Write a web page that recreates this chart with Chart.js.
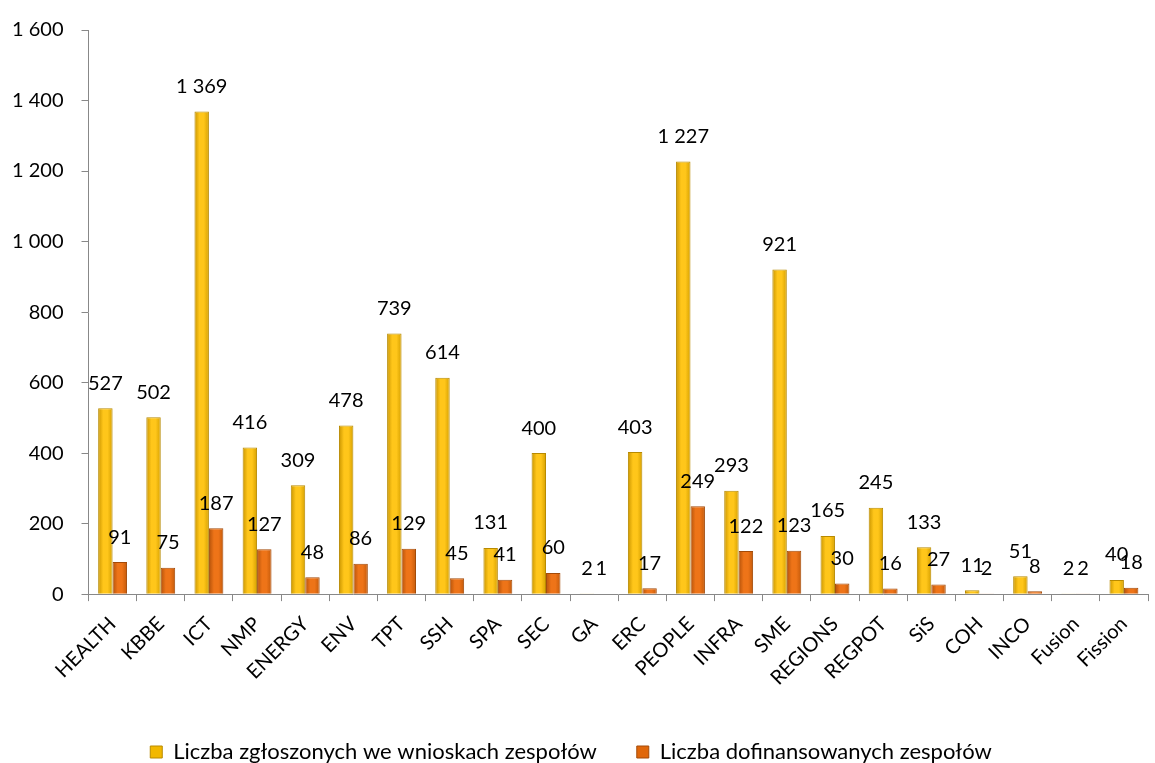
<!DOCTYPE html>
<html>
<head>
<meta charset="utf-8">
<script src="https://cdn.jsdelivr.net/npm/chart.js@4"></script>
<style>
  html, body { margin: 0; padding: 0; background: #fff; }
  #wrap { width: 1155px; height: 763px; }
</style>
</head>
<body>
<div id="wrap"><canvas id="myChart" width="1155" height="763"></canvas></div>
<script>
// programy / obszary tematyczne
const categories = ['HEALTH','KBBE','ICT','NMP','ENERGY','ENV','TPT','SSH','SPA','SEC','GA','ERC','PEOPLE','INFRA','SME','REGIONS','REGPOT','SiS','COH','INCO','Fusion','Fission'];
const zgloszone = [527, 502, 1369, 416, 309, 478, 739, 614, 131, 400, 2, 403, 1227, 293, 921, 165, 245, 133, 11, 51, 2, 40];
const dofinansowane = [91, 75, 187, 127, 48, 86, 129, 45, 41, 60, 1, 17, 249, 122, 123, 30, 16, 27, 2, 8, 2, 18];
const yTicks = [0, 200, 400, 600, 800, 1000, 1200, 1400, 1600];

const FONT = 'Lato, "Open Sans", sans-serif';
const CAT_PCT = 0.6;

function fmt(v) {
  return String(v).replace(/\B(?=(\d{3})+(?!\d))/g, ' ');
}

// poziomy gradient dla kazdego slupka (ciemne brzegi, jasny srodek)
function barFill(stops, solid) {
  return function(c) {
    const chart = c.chart;
    const xs = chart.scales.x;
    if (!chart.chartArea || !xs || c.dataIndex === undefined) return solid;
    const catW = xs.width / categories.length;
    const barW = catW * CAT_PCT / 2;
    const mid = xs.getPixelForValue(c.dataIndex) + (c.datasetIndex === 0 ? -barW / 2 : barW / 2);
    const g = chart.ctx.createLinearGradient(mid - barW / 2, 0, mid + barW / 2, 0);
    g.addColorStop(0, stops[0]);
    g.addColorStop(0.35, stops[1]);
    g.addColorStop(0.65, stops[1]);
    g.addColorStop(1, stops[2]);
    return g;
  };
}

// etykiety nad slupkami
const valueLabels = {
  id: 'valueLabels',
  afterDatasetsDraw(chart) {
    const ctx = chart.ctx;
    ctx.save();
    ctx.font = '20px ' + FONT;
    ctx.fillStyle = '#000';
    ctx.textAlign = 'center';
    ctx.textBaseline = 'middle';
    chart.data.datasets.forEach((ds, i) => {
      const meta = chart.getDatasetMeta(i);
      meta.data.forEach((bar, j) => {
        ctx.fillText(fmt(ds.data[j]), bar.x, bar.y - 25);
      });
    });
    ctx.restore();
  }
};

const ctx = document.getElementById('myChart');
new Chart(ctx, {
  type: 'bar',
  data: {
    labels: categories,
    datasets: [{
      label: 'Liczba zgłoszonych we wnioskach zespołów',
      data: zgloszone,
      legendColor: '#F2B800',
      backgroundColor: barFill(['#C99500', '#FFC61A', '#D6A000'], '#FFC000'),
      borderColor: '#B88A00',
      borderWidth: 1,
      categoryPercentage: CAT_PCT,
      barPercentage: 1
    }, {
      label: 'Liczba dofinansowanych zespołów',
      data: dofinansowane,
      legendColor: '#E0670A',
      backgroundColor: barFill(['#B4520A', '#EE7418', '#C45A0A'], '#E46C0A'),
      borderColor: '#A34A08',
      borderWidth: 1,
      categoryPercentage: CAT_PCT,
      barPercentage: 1
    }]
  },
  options: {
    responsive: false,
    animation: false,
    layout: { padding: { top: 9, right: 7, left: -6, bottom: -10 } },
    plugins: {
      tooltip: { enabled: false },
      legend: {
        position: 'bottom',
        labels: {
          font: { family: FONT, size: 22 },
          color: '#000',
          boxWidth: 12,
          boxHeight: 12,
          padding: 40,
          generateLabels(chart) {
            return chart.data.datasets.map((ds, i) => ({
              text: ds.label,
              fillStyle: ds.legendColor,
              strokeStyle: ds.borderColor,
              lineWidth: 1,
              datasetIndex: i
            }));
          }
        }
      }
    },
    scales: {
      x: {
        grid: { display: true, drawOnChartArea: false, tickLength: 7, color: '#888' },
        border: { color: '#888', width: 1 },
        ticks: {
          font: { family: FONT, size: 20 },
          color: '#000',
          maxRotation: 45,
          minRotation: 45,
          autoSkip: false,
          padding: 11
        }
      },
      y: {
        min: 0,
        max: 1600,
        afterBuildTicks(scale) { scale.ticks = yTicks.map(v => ({ value: v })); },
        grid: { display: true, drawOnChartArea: false, tickLength: 7, color: '#888' },
        border: { color: '#888', width: 1 },
        ticks: {
          font: { family: FONT, size: 20 },
          color: '#000',
          padding: 18,
          callback: v => fmt(v)
        }
      }
    }
  },
  plugins: [valueLabels]
});
</script>
</body>
</html>
